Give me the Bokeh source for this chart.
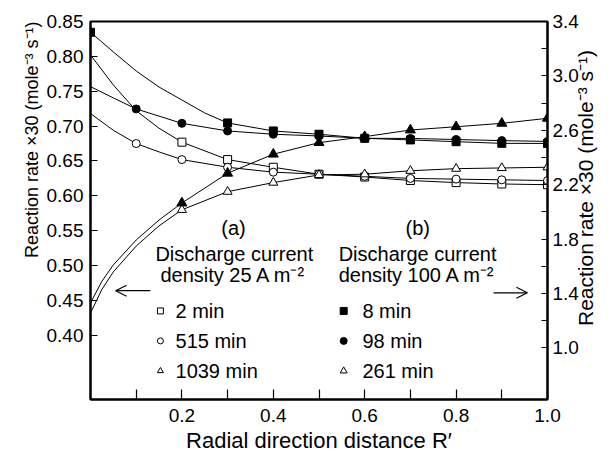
import math
from bokeh.plotting import figure
from bokeh.models import Range1d, LinearAxis, FixedTicker, PrintfTickFormatter, Label, Arrow, OpenHead, Title
from bokeh.embed import file_html
from bokeh.resources import INLINE

FONT = "Liberation Sans"

# ---------------- data ----------------
# (a) 25 A m^-2, left axis
sq2_x = [0, 0.05, 0.1, 0.15, 0.2, 0.3, 0.4, 0.5, 0.6, 0.7, 0.8, 0.9, 1.0]
sq2_y = [0.802, 0.759, 0.722, 0.697, 0.677, 0.652, 0.641, 0.631, 0.627, 0.622, 0.619, 0.617, 0.616]
sq2_mx = [0.2, 0.3, 0.4, 0.5, 0.6, 0.7, 0.8, 0.9, 1.0]
sq2_my = [0.677, 0.652, 0.641, 0.631, 0.627, 0.622, 0.619, 0.617, 0.616]

c515_x = [0, 0.05, 0.1, 0.15, 0.2, 0.3, 0.4, 0.5, 0.6, 0.7, 0.8, 0.9, 1.0]
c515_y = [0.718, 0.694, 0.675, 0.663, 0.652, 0.641, 0.634, 0.631, 0.628, 0.625, 0.624, 0.623, 0.622]
c515_mx = [0.1, 0.2, 0.3, 0.4, 0.5, 0.6, 0.7, 0.8, 0.9, 1.0]
c515_my = [0.675, 0.652, 0.641, 0.634, 0.631, 0.628, 0.625, 0.624, 0.623, 0.622]

t1039_x = [0, 0.025, 0.05, 0.1, 0.15, 0.2, 0.3, 0.4, 0.5, 0.6, 0.7, 0.8, 0.9, 1.0]
t1039_y = [0.432, 0.466, 0.491, 0.528, 0.557, 0.580, 0.606, 0.619, 0.630, 0.631, 0.636, 0.639, 0.640, 0.641]
t1039_mx = [0.2, 0.3, 0.4, 0.5, 0.6, 0.7, 0.8, 0.9, 1.0]
t1039_my = [0.580, 0.606, 0.619, 0.630, 0.631, 0.636, 0.639, 0.640, 0.641]

# (b) 100 A m^-2, right axis
s8_x = [0, 0.05, 0.1, 0.15, 0.2, 0.25, 0.3, 0.4, 0.5, 0.6, 0.7, 0.8, 0.9, 1.0]
s8_y = [3.321, 3.176, 3.036, 2.918, 2.823, 2.727, 2.654, 2.595, 2.571, 2.541, 2.529, 2.516, 2.504, 2.503]
s8_mx = [0, 0.3, 0.4, 0.5, 0.6, 0.7, 0.8, 0.9, 1.0]
s8_my = [3.321, 2.654, 2.595, 2.571, 2.541, 2.529, 2.516, 2.504, 2.503]

c98_x = [0, 0.05, 0.1, 0.2, 0.3, 0.4, 0.5, 0.6, 0.7, 0.8, 0.9, 1.0]
c98_y = [2.921, 2.838, 2.757, 2.651, 2.595, 2.571, 2.558, 2.541, 2.540, 2.532, 2.524, 2.518]
c98_mx = [0.1, 0.2, 0.3, 0.4, 0.5, 0.6, 0.7, 0.8, 0.9, 1.0]
c98_my = [2.757, 2.651, 2.595, 2.571, 2.558, 2.541, 2.540, 2.532, 2.524, 2.518]

t261_x = [0, 0.025, 0.05, 0.1, 0.15, 0.2, 0.3, 0.4, 0.5, 0.6, 0.7, 0.8, 0.9, 1.0]
t261_y = [1.330, 1.490, 1.610, 1.793, 1.940, 2.065, 2.284, 2.424, 2.509, 2.553, 2.602, 2.626, 2.651, 2.688]
t261_mx = [0.2, 0.3, 0.4, 0.5, 0.6, 0.7, 0.8, 0.9, 1.0]
t261_my = [2.065, 2.284, 2.424, 2.509, 2.553, 2.602, 2.626, 2.651, 2.688]

x_ticks = [0.2, 0.4, 0.6, 0.8, 1.0]
x_minor = [0.1, 0.3, 0.5, 0.7, 0.9]
left_ticks = [0.40, 0.45, 0.50, 0.55, 0.60, 0.65, 0.70, 0.75, 0.80, 0.85]
right_ticks = [1.0, 1.4, 1.8, 2.2, 2.6, 3.0, 3.4]
right_minor = [1.2, 1.6, 2.0, 2.4, 2.8, 3.2]

legend_a = ["2 min", "515 min", "1039 min"]
legend_b = ["8 min", "98 min", "261 min"]

YTITLE = "Reaction rate \u00d730 (mole\u207b\u00b3 s\u207b\u00b9)"
XTITLE = "Radial direction distance R\u2032"

# ---------------- figure ----------------
p = figure(width=613, height=460, x_range=Range1d(0, 1.0), y_range=Range1d(0.308, 0.85),
           output_backend="svg", toolbar_location=None,
           min_border_left=90, min_border_right=66, min_border_top=21, min_border_bottom=61)
p.extra_y_ranges = {"right": Range1d(0.62, 3.4)}
p.grid.visible = False
p.outline_line_color = "black"
p.outline_line_width = 2
p.background_fill_color = "white"
p.border_fill_color = "white"

def style_axis(ax, tin):
    ax.axis_line_width = 2
    ax.axis_line_color = "black"
    ax.major_tick_in = tin
    ax.major_tick_out = 0
    ax.minor_tick_in = tin
    ax.minor_tick_out = 0
    ax.major_tick_line_width = 1.2
    ax.minor_tick_line_width = 1.2
    ax.major_label_text_font = FONT
    ax.major_label_text_font_size = "19px"
    ax.major_label_text_color = "black"
    ax.axis_label_text_font = FONT
    ax.axis_label_text_font_style = "normal"
    ax.axis_label_text_color = "black"

xa = p.xaxis[0]
xa.ticker = FixedTicker(ticks=x_ticks, minor_ticks=x_minor)
xa.formatter = PrintfTickFormatter(format="%.1f")
style_axis(xa, 10)
xa.major_label_standoff = 9
xa.axis_label = XTITLE
xa.axis_label_text_font_size = "22px"
xa.axis_label_standoff = 3

ya = p.yaxis[0]
ya.ticker = FixedTicker(ticks=left_ticks, minor_ticks=[])
ya.formatter = PrintfTickFormatter(format="%.2f")
style_axis(ya, 7)
ya.major_label_standoff = 7

# left title: top-aligned, reading bottom-to-top
p.add_layout(Title(text=YTITLE, align="right", offset=0, standoff=4, vertical_align="bottom",
                   text_font=FONT, text_font_size="18px", text_font_style="normal",
                   text_color="black"), "left")

# right title: reads bottom-to-top, starting a little above the bottom of the frame
ra = LinearAxis(y_range_name="right")
ra.ticker = FixedTicker(ticks=right_ticks, minor_ticks=right_minor)
ra.formatter = PrintfTickFormatter(format="%.1f")
style_axis(ra, 6)
ra.major_label_standoff = 5
ra.axis_label = "\u2003" * 3 + "\u2002" + YTITLE
ra.axis_label_text_font_size = "21px"
ra.axis_label_standoff = 4
ra.axis_label_orientation = math.pi / 2
if hasattr(ra, "axis_label_align"):
    ra.axis_label_align = "start"
p.add_layout(ra, "right")

# ---------------- curves & markers ----------------
lw = 1.0
p.line(sq2_x, sq2_y, color="black", line_width=lw)
p.line(c515_x, c515_y, color="black", line_width=lw)
p.line(t1039_x, t1039_y, color="black", line_width=lw)
p.line(s8_x, s8_y, color="black", line_width=lw, y_range_name="right")
p.line(c98_x, c98_y, color="black", line_width=lw, y_range_name="right")
p.line(t261_x, t261_y, color="black", line_width=lw, y_range_name="right")

p.scatter(sq2_mx, sq2_my, marker="square", size=8, fill_color="white", line_color="black", line_width=1)
p.scatter(c515_mx, c515_my, marker="circle", size=8, fill_color="white", line_color="black", line_width=1)
p.scatter(t1039_mx, t1039_my, marker="triangle", size=9, fill_color="white", line_color="black", line_width=1)
p.scatter(s8_mx, s8_my, marker="square", size=8, fill_color="black", line_color="black", y_range_name="right")
p.scatter(c98_mx, c98_my, marker="circle", size=8, fill_color="black", line_color="black", y_range_name="right")
p.scatter(t261_mx, t261_my, marker="triangle", size=10, fill_color="black", line_color="black", y_range_name="right")

# ---------------- annotations ----------------
def txt(x, y, s, size="20px", align="left"):
    lab = Label(x=x, y=y, text=s, text_font=FONT, text_font_size=size, text_align=align,
                text_baseline="middle", text_color="black")
    p.add_layout(lab)

txt(0.313, 0.554, "(a)", align="center")
txt(0.716, 0.554, "(b)", align="center")
txt(0.142, 0.517, "Discharge current")
txt(0.153, 0.486, "density  25 A m\u207b\u00b2")
txt(0.543, 0.517, "Discharge current")
txt(0.543, 0.486, "density  100 A m\u207b\u00b2")

# legend (drawn by hand, two columns)
leg_y = [0.435, 0.392, 0.349]
mk = ["square", "circle", "triangle"]
fill_b = ["black", "black", "white"]
for i in range(3):
    p.scatter([0.153], [leg_y[i]], marker=mk[i], size=6, fill_color="white", line_color="black")
    txt(0.186, leg_y[i], legend_a[i])
    p.scatter([0.554], [leg_y[i]], marker=mk[i], size=7, fill_color=fill_b[i], line_color="black")
    txt(0.595, leg_y[i], legend_b[i])

p.add_layout(Arrow(end=OpenHead(size=11, line_width=1.2), line_width=1.2,
                   x_start=0.131, y_start=0.464, x_end=0.055, y_end=0.464))
p.add_layout(Arrow(end=OpenHead(size=11, line_width=1.2), line_width=1.2,
                   x_start=0.882, y_start=0.461, x_end=0.956, y_end=0.461))

open("out.html", "w").write(file_html(p, INLINE))
